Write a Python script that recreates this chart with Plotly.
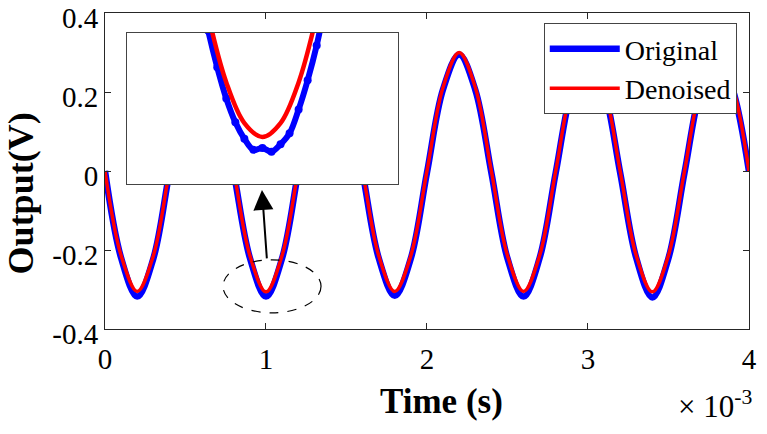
#Recreating the original vs denoised output plot with a zoomed inset

import plotly.graph_objs as go

#time axis, in units of 1e-3 s
time_ms = [0.0, 0.1, 0.2, 0.3, 0.4, 0.5, 0.6, 0.7, 0.8, 0.9,
           1.0, 1.1, 1.2, 1.3, 1.4, 1.5, 1.6, 1.7, 1.8, 1.9,
           2.0, 2.1, 2.2, 2.3, 2.4, 2.5, 2.6, 2.7, 2.8, 2.9,
           3.0, 3.1, 3.2, 3.3, 3.4, 3.5, 3.6, 3.7, 3.8, 3.9, 4.0]

#original (noisy) output in V
original = [0.000, -0.220, -0.318, -0.222, -0.004, 0.206, 0.296, 0.206, -0.004, -0.220,
            -0.318, -0.221, -0.004, 0.206, 0.296, 0.207, -0.004, -0.220, -0.316, -0.221,
            -0.004, 0.207, 0.295, 0.206, -0.004, -0.221, -0.318, -0.220, -0.004, 0.206,
            0.296, 0.206, -0.004, -0.220, -0.320, -0.221, -0.004, 0.206, 0.296, 0.206, 0.000]

#denoised output in V
denoised = [0.000, -0.214, -0.305, -0.215, 0.000, 0.212, 0.300, 0.212, 0.000, -0.214,
            -0.306, -0.214, 0.000, 0.212, 0.300, 0.212, 0.000, -0.214, -0.305, -0.214,
            0.000, 0.212, 0.300, 0.212, 0.000, -0.214, -0.305, -0.214, 0.000, 0.212,
            0.300, 0.212, 0.000, -0.214, -0.306, -0.214, 0.000, 0.212, 0.300, 0.212, 0.000]

#inset: zoom around the minimum near t = 1e-3 s
inset_time_orig = [0.90, 0.91, 0.92, 0.93, 0.94, 0.95, 0.96, 0.97, 0.98, 0.99, 1.00,
                   1.01, 1.02, 1.03, 1.04, 1.05, 1.06, 1.07, 1.08, 1.09, 1.10]
inset_orig = [-0.2200, -0.2360, -0.2510, -0.2640, -0.2760, -0.2860, -0.2945, -0.3010,
              -0.3055, -0.3085, -0.3080, -0.3090, -0.3070, -0.3040, -0.2975, -0.2895,
              -0.2800, -0.2680, -0.2545, -0.2390, -0.2230]
inset_time_den = [0.90, 0.92, 0.94, 0.96, 0.98, 1.00, 1.02, 1.04, 1.06, 1.08, 1.10]
inset_den = [-0.2157, -0.2467, -0.2718, -0.2901, -0.3012, -0.3050,
             -0.3012, -0.2901, -0.2718, -0.2467, -0.2157]

x_ticks = [0, 1, 2, 3, 4]
x_labels = ["0", "1", "2", "3", "4"]
y_ticks = [-0.4, -0.2, 0, 0.2, 0.4]
y_labels = ["-0.4", "-0.2", "0", "0.2", "0.4"]

inset_xrange = [0.85, 1.15]
inset_yrange = [-0.3178, -0.2766]

serif = "Liberation Serif"
axis_col = "#262626"

data = [
    go.Scatter(x=time_ms, y=original, mode='lines', name='Original',
               line=dict(color='rgb(0,0,255)', width=6.5, shape='spline')),
    go.Scatter(x=time_ms, y=denoised, mode='lines', name='Denoised',
               line=dict(color='rgb(255,0,0)', width=3.5, shape='spline')),
    #white background of the inset so the main curves are hidden behind it
    go.Scatter(x=[inset_xrange[0] - 1, inset_xrange[1] + 1, inset_xrange[1] + 1,
                  inset_xrange[0] - 1, inset_xrange[0] - 1],
               y=[inset_yrange[0] - 1, inset_yrange[0] - 1, inset_yrange[1] + 1,
                  inset_yrange[1] + 1, inset_yrange[0] - 1],
               xaxis='x2', yaxis='y2', fill='toself', fillcolor='white',
               mode='none', showlegend=False, hoverinfo='skip'),
    go.Scatter(x=inset_time_orig, y=inset_orig, xaxis='x2', yaxis='y2',
               mode='lines+markers', showlegend=False,
               line=dict(color='rgb(0,0,255)', width=6, shape='spline'),
               marker=dict(color='rgb(0,0,255)', size=8)),
    go.Scatter(x=inset_time_den, y=inset_den, xaxis='x2', yaxis='y2',
               mode='lines', showlegend=False,
               line=dict(color='rgb(255,0,0)', width=4.5, shape='spline')),
]

layout = go.Layout(
    width=767, height=434,
    margin=dict(l=105, r=18, t=13, b=105),
    paper_bgcolor='white', plot_bgcolor='white',
    font=dict(family=serif, color='black', size=29),
    xaxis=dict(range=[0, 4.0005], tickvals=x_ticks, ticktext=x_labels, automargin=False,
               showgrid=False, zeroline=False, showline=True, mirror='allticks',
               linecolor=axis_col, linewidth=1, ticks='inside', ticklen=6,
               tickcolor=axis_col, tickfont=dict(family=serif, size=29),
               ticklabelstandoff=4, ticklabeloverflow='allow'),
    yaxis=dict(range=[-0.4, 0.4001], tickvals=y_ticks, ticktext=y_labels, automargin=False,
               showgrid=False, zeroline=False, showline=True, mirror='allticks',
               linecolor=axis_col, linewidth=1, ticks='inside', ticklen=6,
               tickcolor=axis_col, tickfont=dict(family=serif, size=29),
               ticklabeloverflow='allow', ticklabelshift=5),
    xaxis2=dict(domain=[0.034, 0.455], anchor='y2', range=inset_xrange, automargin=False,
                showgrid=False, zeroline=False, showticklabels=False, ticks='',
                showline=True, mirror=True, linecolor='#444', linewidth=1),
    yaxis2=dict(domain=[0.459, 0.937], anchor='x2', range=inset_yrange, automargin=False,
                showgrid=False, zeroline=False, showticklabels=False, ticks='',
                showline=True, mirror=True, linecolor='#444', linewidth=1),
    legend=dict(x=0.981, y=0.968, xanchor='right', yanchor='top',
                bgcolor='white', bordercolor='#444', borderwidth=1,
                font=dict(family=serif, size=28), itemwidth=70,
                tracegroupgap=0),
    annotations=[
        dict(text='<b>Time (s)</b>', xref='paper', yref='paper', x=0.522, y=-0.228,
             xanchor='center', yanchor='middle',
             showarrow=False, font=dict(family=serif, size=35)),
        dict(text='<b>Output(V)</b>', xref='paper', yref='paper', x=-0.131, y=0.428,
             xanchor='center', yanchor='middle',
             textangle=-90, showarrow=False, font=dict(family=serif, size=36)),
        dict(text='× 10<sup>-3</sup>', xref='paper', yref='paper', x=1.008, y=-0.24,
             xanchor='right', yanchor='middle',
             showarrow=False, font=dict(family=serif, size=31)),
        dict(text='', x=0.975, y=-0.048, ax=1.006, ay=-0.225, xref='x', yref='y',
             axref='x', ayref='y', showarrow=True, arrowhead=2, arrowsize=2,
             arrowwidth=2, arrowcolor='black'),
    ],
    shapes=[
        dict(type='circle', xref='x', yref='y', x0=0.733, x1=1.342, y0=-0.359, y1=-0.225,
             line=dict(color='black', width=1.2, dash='dash')),
    ],
)

fig = go.Figure(data=data, layout=layout)
#drop the default page margin so the figure sits at the window's corner
fig.write_html("out.html", config={'displayModeBar': False},
               post_script="document.body.style.margin='0';")
